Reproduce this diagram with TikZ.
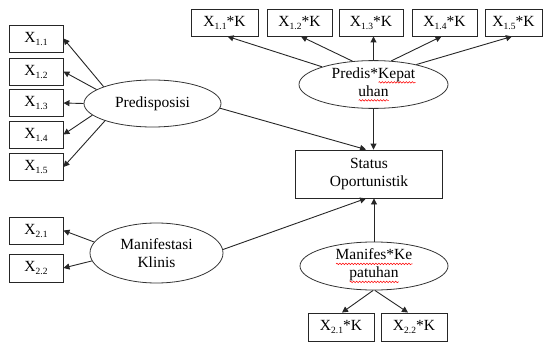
\documentclass[tikz,border=0pt]{standalone}
\usepackage{fontspec}
\setmainfont{Liberation Serif}
\usetikzlibrary{arrows.meta,calc,shapes.geometric,decorations.pathmorphing}
\newcommand\Xs[1]{X\raisebox{-3pt}{\fontsize{9.5}{10}\selectfont #1}}
\newsavebox\wavebox
\newcommand\rwave[1]{\sbox\wavebox{#1}\rlap{\tikz[baseline=0pt,x=1pt,y=1pt]\draw[red,line width=0.5pt,decorate,decoration={snake,amplitude=0.8pt,segment length=3pt}] (0,-4)--(\wd\wavebox,-4);}\usebox\wavebox}
\begin{document}
\begin{tikzpicture}[x=1pt,y=-1pt,
 every node/.style={font=\fontsize{15.5}{18}\selectfont, text=black},
 obox/.style={draw=black!85, line width=0.9pt, minimum height=27pt, inner sep=0pt},
 lat/.style={draw=black!80, line width=0.8pt, ellipse, inner sep=0pt, align=center},
 arr/.style={draw=black!85, line width=0.9pt, -{Triangle[length=6pt,width=6pt]}}]
\useasboundingbox (0,0) rectangle (544,345);

% left indicators
\node[obox, minimum width=54pt] (x11) at (36,38.5) {\Xs{1.1}};
\node[obox, minimum width=54pt] (x12) at (36,71.5) {\Xs{1.2}};
\node[obox, minimum width=54pt] (x13) at (36,103) {\Xs{1.3}};
\node[obox, minimum width=54pt] (x14) at (36,134.5) {\Xs{1.4}};
\node[obox, minimum width=54pt] (x15) at (36,167) {\Xs{1.5}};
\node[obox, minimum width=54pt] (x21) at (36,230.5) {\Xs{2.1}};
\node[obox, minimum width=54pt, minimum height=28pt] (x22) at (36,268) {\Xs{2.2}};

% top indicators
\node[obox, minimum width=67pt] (k11) at (224.5,22.5) {\Xs{1.1}*K};
\node[obox, minimum width=65pt] (k12) at (299.5,22.5) {\Xs{1.2}*K};
\node[obox, minimum width=64pt] (k13) at (371,22.5) {\Xs{1.3}*K};
\node[obox, minimum width=65pt] (k14) at (444.5,22.5) {\Xs{1.4}*K};
\node[obox, minimum width=57pt] (k15) at (513.5,22.5) {\Xs{1.5}*K};

% bottom indicators
\node[obox, minimum width=66pt, minimum height=28pt] (k21) at (341,327) {\Xs{2.1}*K};
\node[obox, minimum width=66pt, minimum height=28pt] (k22) at (414,327) {\Xs{2.2}*K};

% latent variables
\node[lat, minimum width=137pt, minimum height=47pt] (pred) at (152.5,103.5) {Predisposisi};
\node[lat, minimum width=149pt, minimum height=47pt] (pk) at (373.5,84.5) {Predis*\rwave{Kepat}\\\rwave{uhan}};
\node[lat, minimum width=133pt, minimum height=60pt] (man) at (156.5,253) {Manifestasi\\Klinis};
\node[lat, minimum width=148pt, minimum height=48pt] (mk) at (374,266) {\rwave{Manifes*Ke}\\\rwave{patuhan}};

% outcome
\node[obox, minimum width=147pt, minimum height=48pt, align=center] (status) at (369,174) {Status\\Oportunistik};

% arrows: Predisposisi
\draw[arr] (pred.161.6) -- (x11.east);
\draw[arr] (pred.166.8) -- (x12.east);
\draw[arr] (pred.180) -- (x13.east);
\draw[arr] (pred.191.3) -- (x14.east);
\draw[arr] (pred.200.5) -- (x15.east);
\draw[arr] (pred.356) -- ($(status.north)+(-3,0)$);

% arrows: Predis*Kepatuhan
\draw[arr] (pk.161.9) -- ($(k11.south)+(3,0)$);
\draw[arr] (pk.132.3) -- ($(k12.south)+(1.5,0)$);
\draw[arr] (pk.90) -- (pk.north |- k13.south);
\draw[arr] (pk.53.7) -- ($(k14.south)+(-3,0)$);
\draw[arr] (pk.25.2) -- ($(k15.south)+(-1.5,0)$);
\draw[arr] (pk.south) -- (pk.south |- status.north);

% arrows: Manifestasi Klinis
\draw[arr] (man.170.2) -- (x21.east);
\draw[arr] (man.187) -- (x22.east);
\draw[arr] (man.3.5) -- ($(status.south)+(-3,0)$);

% arrows: Manifes*Kepatuhan
\draw[arr] (mk.north) -- (mk.north |- status.south);
\draw[arr] (mk.268) -- ($(k21.north)+(1,0)$);
\draw[arr] (mk.272) -- ($(k22.north)+(-6,0)$);
\end{tikzpicture}
\end{document}
